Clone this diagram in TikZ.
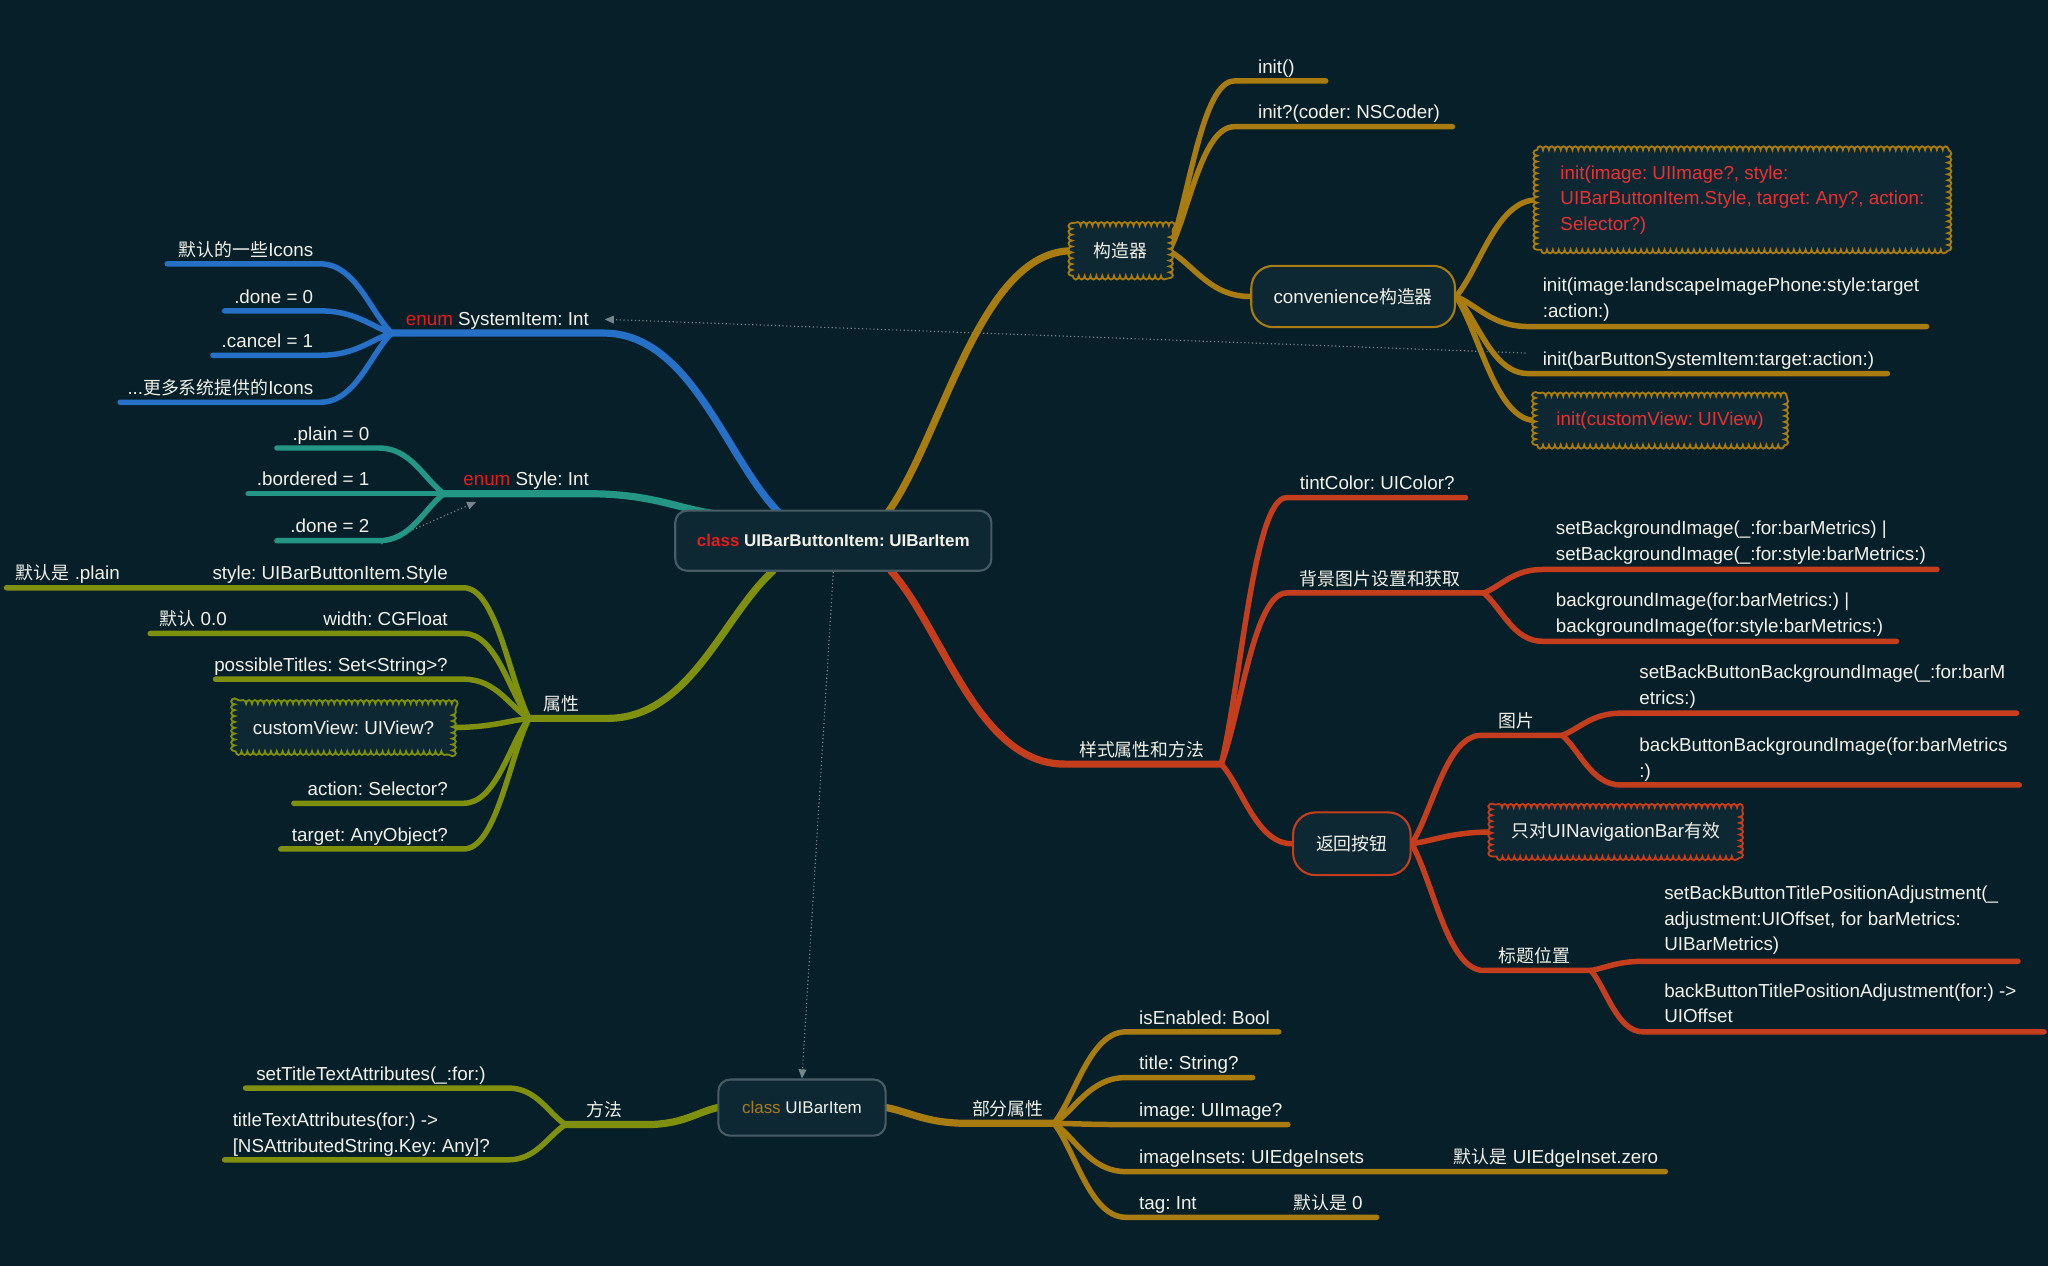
\documentclass[tikz,border=0pt]{standalone}
\usepackage{fontspec}
\setmainfont{Liberation Sans}
\newfontfamily\cjk{Noto Sans CJK SC}[Scale=0.95]
\usetikzlibrary{calc,decorations.pathmorphing,arrows.meta}
\pgfdeclarelayer{back}
\pgfdeclarelayer{lines}
\pgfdeclarelayer{shapes}
\pgfsetlayers{back,lines,shapes,main}
\frenchspacing

\definecolor{bgc}{RGB}{7,31,40}
\definecolor{nodefill}{RGB}{13,40,50}
\definecolor{cborder}{RGB}{72,92,102}
\definecolor{cblue}{RGB}{38,112,200}
\definecolor{cteal}{RGB}{36,150,134}
\definecolor{colive}{RGB}{126,144,14}
\definecolor{cgold}{RGB}{168,124,16}
\definecolor{cred}{RGB}{196,62,30}
\definecolor{kwred}{RGB}{228,28,28}
\definecolor{cloudred}{RGB}{232,50,50}
\definecolor{kgold}{RGB}{168,124,24}
\definecolor{txt}{RGB}{242,242,234}
\definecolor{dotc}{RGB}{118,134,142}

\newcommand{\zh}[1]{{\cjk #1}}
\newcommand{\lblsize}{\fontsize{14.4}{19.6}\selectfont}
% curved mind-map edge: from #2, bending into #3, then straight on to #4
\newcommand{\mmline}[4]{\draw[#1] (#2) .. controls ($(#2)!0.3!(#3)$) and ($(#3)!0.5!(#2|-#3)$) .. (#3) -- (#4);}

\begin{document}
\begin{tikzpicture}[x=1pt,y=-1pt,
  mmlbl/.style={inner sep=0pt,text=txt,font=\lblsize},
  mmmulti/.style={mmlbl,align=left},
  mmbranch/.style={line width=4.2pt,line cap=round,draw=#1},
  mmtrunk/.style={line width=5.5pt,line cap=round,draw=#1},
  roundbox/.style={draw=#1,line width=1.6pt,fill=nodefill},
  cloudline/.style={draw=#1,fill=nodefill,line width=1.4pt,decorate,
    decoration={bumps,segment length=9pt,amplitude=2.8pt}},
  dotarr/.style={draw=dotc,line width=0.9pt,dotted,-{Triangle[length=7pt,width=6pt]}},
]
\begin{pgfonlayer}{back}
\fill[bgc] (0,0) rectangle (1568,969);
\end{pgfonlayer}
\useasboundingbox (0,0) rectangle (1568,969);

% ---------- central classes ----------
\node[roundbox=cborder,rounded corners=9pt,minimum width=242pt,minimum height=46pt,
  font=\fontsize{13}{16}\selectfont\bfseries,text=txt] (C) at (638,414)
  {\textcolor{kwred}{class} UIBarButtonItem: UIBarItem};
\node[roundbox=cborder,rounded corners=9pt,minimum width=128pt,minimum height=43pt,
  font=\fontsize{13}{16}\selectfont,text=txt] (B) at (614,848)
  {\textcolor{kgold}{class} UIBarItem};

% ---------- enum SystemItem ----------
\node[mmlbl,anchor=base east] (sysitem) at (451,249) {\textcolor{kwred}{enum} SystemItem: Int};
\node[mmlbl,anchor=base east] (k1) at (240,196) {\zh{默认的一些}Icons};
\node[mmlbl,anchor=base east] (k2) at (240,232) {.done = 0};
\node[mmlbl,anchor=base east] (k3) at (240,266) {.cancel = 1};
\node[mmlbl,anchor=base east] (k4) at (240,302) {...\zh{更多系统提供的}Icons};

% ---------- enum Style ----------
\node[mmlbl,anchor=base east] (tstyle) at (451,372) {\textcolor{kwred}{enum} Style: Int};
\node[mmlbl,anchor=base east] (p1) at (283,337) {.plain = 0};
\node[mmlbl,anchor=base east] (p2) at (283,372) {.bordered = 1};
\node[mmlbl,anchor=base east] (p3) at (283,408) {.done = 2};

% ---------- properties ----------
\node[mmlbl,anchor=base west] (attr) at (416,544) {\zh{属性}};
\node[mmlbl,anchor=base east] (q1) at (343,444) {style: UIBarButtonItem.Style};
\node[mmlbl,anchor=base west] (q1d) at (12,444) {\zh{默认是} .plain};
\node[mmlbl,anchor=base east] (q2) at (343,479) {width: CGFloat};
\node[mmlbl,anchor=base west] (q2d) at (122,479) {\zh{默认} 0.0};
\node[mmlbl,anchor=base east] (q3) at (343,514) {possibleTitles: Set<String>?};
\node[mmlbl,minimum width=166pt,minimum height=36pt] (cv) at (263,557) {customView: UIView?};
\node[mmlbl,anchor=base east] (q5) at (343,609) {action: Selector?};
\node[mmlbl,anchor=base east] (q6) at (343,644) {target: AnyObject?};

% ---------- methods ----------
\node[mmlbl,anchor=base west] (meth) at (449,855) {\zh{方法}};
\node[mmlbl,anchor=base west] (r1) at (196,827) {setTitleTextAttributes(\_:for:)};
\node[mmmulti,anchor=base west] (r2) at (178,882) {titleTextAttributes(for:) ->\\{}[NSAttributedString.Key: Any]?};

% ---------- UIBarItem properties ----------
\node[mmlbl,anchor=base west] (part) at (744,854) {\zh{部分属性}};
\node[mmlbl,anchor=base west] (u1) at (872,784) {isEnabled: Bool};
\node[mmlbl,anchor=base west] (u2) at (872,819) {title: String?};
\node[mmlbl,anchor=base west] (u3) at (872,855) {image: UIImage?};
\node[mmlbl,anchor=base west] (u4) at (872,891) {imageInsets: UIEdgeInsets};
\node[mmlbl,anchor=base west] (u4d) at (1113,891) {\zh{默认是} UIEdgeInset.zero};
\node[mmlbl,anchor=base west] (u5) at (872,926) {tag: Int};
\node[mmlbl,anchor=base west] (u5d) at (990,926) {\zh{默认是} 0};

% ---------- initialisers ----------
\node[mmlbl,minimum width=74pt,minimum height=38pt] (gc) at (858,192) {\zh{构造器}};
\node[mmlbl,anchor=base west] (i1) at (963,56) {init()};
\node[mmlbl,anchor=base west] (i2) at (963,91) {init?(coder: NSCoder)};
\node[roundbox=cgold,rounded corners=17pt,minimum width=156pt,minimum height=47pt,
  font=\lblsize,text=txt] (conv) at (1036,227) {convenience\zh{构造器}};
\node[mmmulti,text=cloudred,minimum width=314pt,minimum height=76pt] (cl1) at (1334,153)
  {init(image: UIImage?, style:\\UIBarButtonItem.Style, target: Any?, action:\\Selector?)};
\node[mmmulti,anchor=base west] (l3) at (1181,243) {init(image:landscapeImagePhone:style:target\\:action:)};
\node[mmlbl,anchor=base west] (l4) at (1181,280) {init(barButtonSystemItem:target:action:)};
\node[mmlbl,text=cloudred,minimum width=190pt,minimum height=37pt] (cl2) at (1271,322) {init(customView: UIView)};

% ---------- appearance ----------
\node[mmlbl,anchor=base west] (look) at (826,579) {\zh{样式属性和方法}};
\node[mmlbl,anchor=base west] (v1) at (995,375) {tintColor: UIColor?};
\node[mmlbl,anchor=base west] (v2) at (995,448) {\zh{背景图片设置和获取}};
\node[mmmulti,anchor=base west] (w1) at (1191,429) {setBackgroundImage(\_:for:barMetrics) |\\setBackgroundImage(\_:for:style:barMetrics:)};
\node[mmmulti,anchor=base west] (w2) at (1191,484) {backgroundImage(for:barMetrics:) |\\backgroundImage(for:style:barMetrics:)};
\node[roundbox=cred,rounded corners=17pt,minimum width=90pt,minimum height=48pt,
  font=\lblsize,text=txt] (back) at (1035,646) {\zh{返回按钮}};
\node[mmlbl,anchor=base west] (x1) at (1147,557) {\zh{图片}};
\node[mmmulti,anchor=base west] (y1) at (1255,539) {setBackButtonBackgroundImage(\_:for:barM\\etrics:)};
\node[mmmulti,anchor=base west] (y2) at (1255,595) {backButtonBackgroundImage(for:barMetrics\\:)};
\node[mmlbl,minimum width=189pt,minimum height=37pt] (cl3) at (1237,637) {\zh{只对}UINavigationBar\zh{有效}};
\node[mmlbl,anchor=base west] (x3) at (1147,737) {\zh{标题位置}};
\node[mmmulti,anchor=base west] (z1) at (1274,728) {setBackButtonTitlePositionAdjustment(\_\\adjustment:UIOffset, for barMetrics:\\UIBarMetrics)};
\node[mmmulti,anchor=base west] (z2) at (1274,783) {backButtonTitlePositionAdjustment(for:) ->\\UIOffset};

% ---------- cloud outlines ----------
\begin{pgfonlayer}{shapes}
\path[cloudline=colive] (cv.south west) rectangle (cv.north east);
\path[cloudline=cgold] (gc.south west) rectangle (gc.north east);
\path[cloudline=cgold] (cl1.south west) rectangle (cl1.north east);
\path[cloudline=cgold] (cl2.south west) rectangle (cl2.north east);
\path[cloudline=cred] (cl3.south west) rectangle (cl3.north east);
\end{pgfonlayer}

% ---------- connectors ----------
\begin{pgfonlayer}{lines}
% cross references
\draw[dotarr] ($(l4.west)+(-13,-6)$) -- ($(sysitem.east)+(12,-1)$);
\draw[dotarr] ($(p3.south east)+(9,8)$) -- ($(tstyle.south west)+(10,9)$);
\draw[dotarr] (C.south) -- (B.north);

% SystemItem
\coordinate (cb) at (596,392); \coordinate (b0) at (462,255); \coordinate (bj) at (300,255);
\coordinate (k1n) at (245,202); \coordinate (k1f) at (128,202);
\coordinate (k2n) at (245,238); \coordinate (k2f) at (172,238);
\coordinate (k3n) at (245,272); \coordinate (k3f) at (163,272);
\coordinate (k4n) at (245,308); \coordinate (k4f) at (92,308);
\mmline{mmtrunk=cblue}{cb}{b0}{bj}
\mmline{mmbranch=cblue}{bj}{k1n}{k1f}
\mmline{mmbranch=cblue}{bj}{k2n}{k2f}
\mmline{mmbranch=cblue}{bj}{k3n}{k3f}
\mmline{mmbranch=cblue}{bj}{k4n}{k4f}

% Style
\coordinate (ct) at (545,393); \coordinate (t0) at (450,378); \coordinate (tj) at (340,378);
\coordinate (p1n) at (290,343); \coordinate (p1f) at (212,343);
\coordinate (p2n) at (290,378); \coordinate (p2f) at (190,378);
\coordinate (p3n) at (290,414); \coordinate (p3f) at (212,414);
\mmline{mmtrunk=cteal}{ct}{t0}{tj}
\mmline{mmbranch=cteal}{tj}{p1n}{p1f}
\mmline{mmbranch=cteal}{tj}{p2n}{p2f}
\mmline{mmbranch=cteal}{tj}{p3n}{p3f}

% properties
\coordinate (co) at (592,437); \coordinate (o0) at (465,550); \coordinate (oj) at (405,550);
\coordinate (q1n) at (355,450); \coordinate (q1f) at (5,450);
\coordinate (q2n) at (355,485); \coordinate (q2f) at (115,485);
\coordinate (q3n) at (355,520); \coordinate (q3f) at (165,520);
\coordinate (q5n) at (355,615); \coordinate (q5f) at (225,615);
\coordinate (q6n) at (355,650); \coordinate (q6f) at (215,650);
\mmline{mmtrunk=colive}{co}{o0}{oj}
\mmline{mmbranch=colive}{oj}{q1n}{q1f}
\mmline{mmbranch=colive}{oj}{q2n}{q2f}
\mmline{mmbranch=colive}{oj}{q3n}{q3f}
\mmline{mmbranch=colive}{oj}{cv.east}{cv.east}
\mmline{mmbranch=colive}{oj}{q5n}{q5f}
\mmline{mmbranch=colive}{oj}{q6n}{q6f}

% methods
\coordinate (m0) at (495,861); \coordinate (mj) at (433,861);
\coordinate (r1n) at (389,833); \coordinate (r1f) at (188,833);
\coordinate (r2n) at (389,888); \coordinate (r2f) at (172,888);
\mmline{mmtrunk=colive}{B.west}{m0}{mj}
\mmline{mmbranch=colive}{mj}{r1n}{r1f}
\mmline{mmbranch=colive}{mj}{r2n}{r2f}

% UIBarItem properties
\coordinate (g0) at (740,860); \coordinate (gj) at (807,860);
\coordinate (u1n) at (862,790); \coordinate (u1f) at (979,790);
\coordinate (u2n) at (862,825); \coordinate (u2f) at (959,825);
\coordinate (u3n) at (862,861); \coordinate (u3f) at (986,861);
\coordinate (u4n) at (862,897); \coordinate (u4f) at (1275,897);
\coordinate (u5n) at (862,932); \coordinate (u5f) at (1054,932);
\mmline{mmtrunk=cgold}{B.east}{g0}{gj}
\mmline{mmbranch=cgold}{gj}{u1n}{u1f}
\mmline{mmbranch=cgold}{gj}{u2n}{u2f}
\mmline{mmbranch=cgold}{gj}{u3n}{u3f}
\mmline{mmbranch=cgold}{gj}{u4n}{u4f}
\mmline{mmbranch=cgold}{gj}{u5n}{u5f}

% initialisers
\coordinate (cg) at (680,392);
\coordinate (i1n) at (945,62); \coordinate (i1f) at (1015,62);
\coordinate (i2n) at (945,97); \coordinate (i2f) at (1112,97);
\coordinate (l3n) at (1170,250); \coordinate (l3f) at (1475,250);
\coordinate (l4n) at (1170,286); \coordinate (l4f) at (1445,286);
\mmline{mmtrunk=cgold}{cg}{gc.west}{gc.west}
\mmline{mmbranch=cgold}{gc.east}{i1n}{i1f}
\mmline{mmbranch=cgold}{gc.east}{i2n}{i2f}
\mmline{mmbranch=cgold}{gc.east}{conv.west}{conv.west}
\mmline{mmbranch=cgold}{conv.east}{cl1.west}{cl1.west}
\mmline{mmbranch=cgold}{conv.east}{l3n}{l3f}
\mmline{mmbranch=cgold}{conv.east}{l4n}{l4f}
\mmline{mmbranch=cgold}{conv.east}{cl2.west}{cl2.west}

% appearance
\coordinate (cr) at (682,437); \coordinate (e0) at (815,585); \coordinate (rj) at (935,585);
\coordinate (v1n) at (985,381); \coordinate (v1f) at (1122,381);
\coordinate (v2n) at (985,454); \coordinate (v2f) at (1136,454);
\coordinate (w1n) at (1181,436); \coordinate (w1f) at (1483,436);
\coordinate (w2n) at (1181,491); \coordinate (w2f) at (1452,491);
\coordinate (x1n) at (1134,563); \coordinate (x1f) at (1196,563);
\coordinate (y1n) at (1241,546); \coordinate (y1f) at (1544,546);
\coordinate (y2n) at (1241,601); \coordinate (y2f) at (1546,601);
\coordinate (x3n) at (1136,743); \coordinate (x3f) at (1218,743);
\coordinate (z1n) at (1258,736); \coordinate (z1f) at (1545,736);
\coordinate (z2n) at (1258,790); \coordinate (z2f) at (1565,790);
\mmline{mmtrunk=cred}{cr}{e0}{rj}
\mmline{mmbranch=cred}{rj}{v1n}{v1f}
\mmline{mmbranch=cred}{rj}{v2n}{v2f}
\mmline{mmbranch=cred}{v2f}{w1n}{w1f}
\mmline{mmbranch=cred}{v2f}{w2n}{w2f}
\mmline{mmbranch=cred}{rj}{back.west}{back.west}
\mmline{mmbranch=cred}{back.east}{x1n}{x1f}
\mmline{mmbranch=cred}{x1f}{y1n}{y1f}
\mmline{mmbranch=cred}{x1f}{y2n}{y2f}
\mmline{mmbranch=cred}{back.east}{cl3.west}{cl3.west}
\mmline{mmbranch=cred}{back.east}{x3n}{x3f}
\mmline{mmbranch=cred}{x3f}{z1n}{z1f}
\mmline{mmbranch=cred}{x3f}{z2n}{z2f}
\end{pgfonlayer}
\end{tikzpicture}
\end{document}
